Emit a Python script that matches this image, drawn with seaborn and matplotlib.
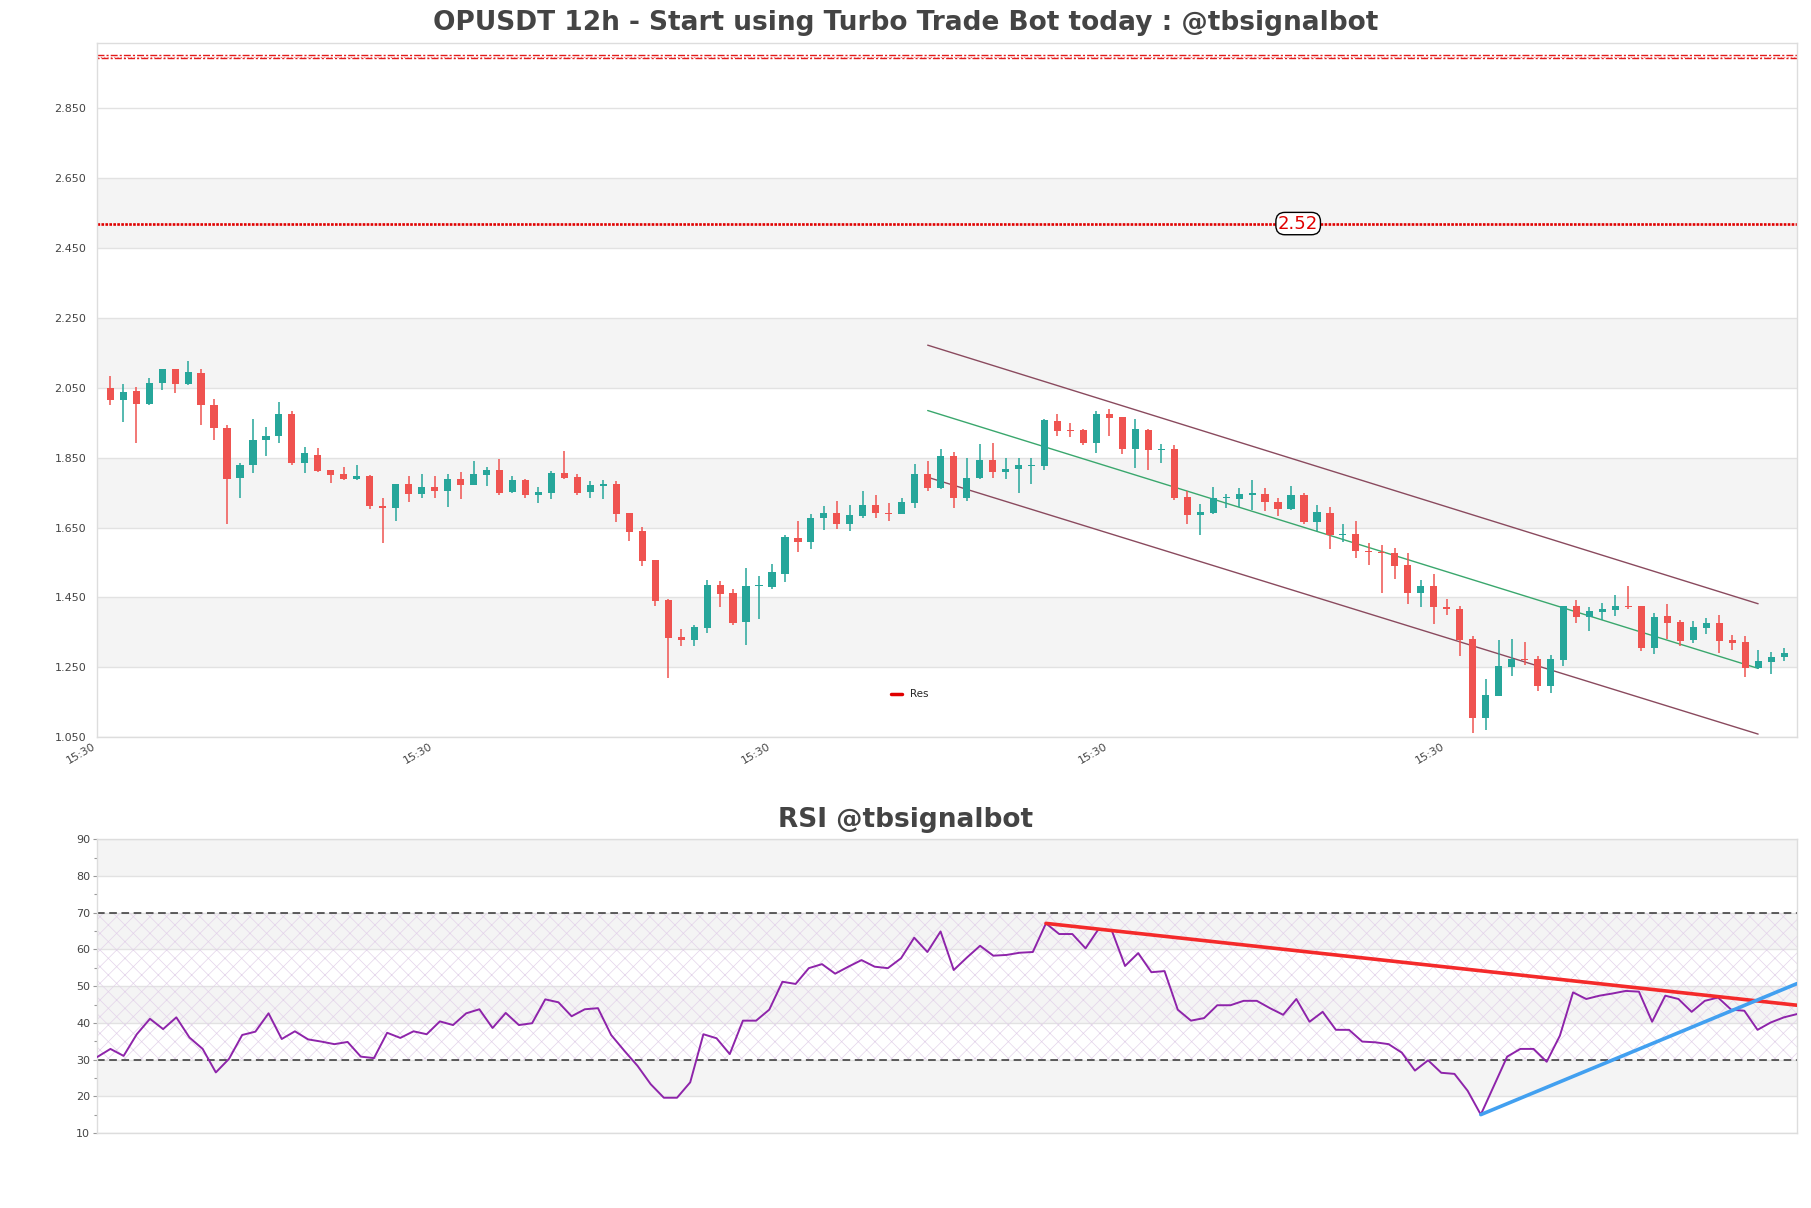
import numpy as np
import pandas as pd
import matplotlib
matplotlib.use("Agg")
import matplotlib.pyplot as plt
import matplotlib.transforms as mtransforms
from matplotlib.lines import Line2D
from matplotlib.ticker import MultipleLocator
import seaborn as sns

# ---------------- data ----------------
opens = [2.050, 2.015, 2.042, 2.003, 2.063, 2.104, 2.061, 2.093, 2.001, 1.936,
         1.791, 1.828, 1.900, 1.911, 1.976, 1.834, 1.859, 1.816, 1.802, 1.788,
         1.797, 1.713, 1.705, 1.774, 1.745, 1.765, 1.754, 1.788, 1.771, 1.800,
         1.814, 1.751, 1.785, 1.742, 1.748, 1.805, 1.794, 1.751, 1.770, 1.774,
         1.691, 1.639, 1.556, 1.444, 1.338, 1.329, 1.364, 1.487, 1.464, 1.381,
         1.483, 1.481, 1.518, 1.619, 1.610, 1.676, 1.691, 1.659, 1.682, 1.714,
         1.691, 1.688, 1.719, 1.802, 1.762, 1.854, 1.734, 1.791, 1.843, 1.808,
         1.817, 1.826, 1.827, 1.955, 1.928, 1.928, 1.891, 1.975, 1.966, 1.874,
         1.928, 1.871, 1.874, 1.737, 1.686, 1.692, 1.734, 1.733, 1.744, 1.747,
         1.724, 1.702, 1.744, 1.665, 1.691, 1.628, 1.631, 1.583, 1.579, 1.576,
         1.542, 1.462, 1.483, 1.422, 1.417, 1.331, 1.106, 1.169, 1.252, 1.274,
         1.274, 1.198, 1.272, 1.427, 1.395, 1.409, 1.415, 1.427, 1.425, 1.306,
         1.397, 1.381, 1.329, 1.362, 1.377, 1.329, 1.323, 1.249, 1.266, 1.280]
highs = [2.085, 2.060, 2.053, 2.079, 2.104, 2.104, 2.128, 2.104, 2.018, 1.944,
         1.835, 1.962, 1.939, 2.008, 1.985, 1.882, 1.879, 1.816, 1.822, 1.830,
         1.800, 1.736, 1.774, 1.797, 1.802, 1.797, 1.802, 1.808, 1.840, 1.822,
         1.845, 1.797, 1.788, 1.765, 1.811, 1.870, 1.802, 1.782, 1.785, 1.782,
         1.691, 1.653, 1.556, 1.447, 1.361, 1.372, 1.501, 1.496, 1.475, 1.533,
         1.510, 1.547, 1.630, 1.670, 1.688, 1.711, 1.725, 1.714, 1.754, 1.742,
         1.719, 1.736, 1.831, 1.840, 1.874, 1.866, 1.848, 1.888, 1.891, 1.848,
         1.848, 1.848, 1.961, 1.975, 1.950, 1.931, 1.985, 1.990, 1.966, 1.961,
         1.933, 1.890, 1.886, 1.754, 1.717, 1.765, 1.747, 1.764, 1.785, 1.763,
         1.736, 1.770, 1.748, 1.716, 1.710, 1.659, 1.668, 1.605, 1.599, 1.591,
         1.576, 1.500, 1.517, 1.447, 1.427, 1.339, 1.216, 1.328, 1.331, 1.322,
         1.283, 1.285, 1.425, 1.442, 1.422, 1.433, 1.456, 1.482, 1.425, 1.405,
         1.431, 1.386, 1.383, 1.391, 1.400, 1.343, 1.341, 1.300, 1.294, 1.305]
lows = [2.000, 1.952, 1.891, 2.000, 2.043, 2.035, 2.058, 1.943, 1.900, 1.659,
        1.734, 1.805, 1.854, 1.891, 1.828, 1.805, 1.808, 1.777, 1.785, 1.785,
        1.702, 1.607, 1.670, 1.722, 1.736, 1.736, 1.708, 1.731, 1.771, 1.768,
        1.742, 1.748, 1.734, 1.719, 1.731, 1.788, 1.742, 1.736, 1.731, 1.665,
        1.613, 1.539, 1.427, 1.220, 1.312, 1.312, 1.349, 1.424, 1.372, 1.315,
        1.389, 1.473, 1.493, 1.579, 1.590, 1.642, 1.645, 1.639, 1.676, 1.676,
        1.668, 1.688, 1.705, 1.756, 1.759, 1.705, 1.725, 1.788, 1.791, 1.788,
        1.748, 1.774, 1.814, 1.912, 1.909, 1.886, 1.863, 1.912, 1.860, 1.820,
        1.814, 1.834, 1.728, 1.659, 1.628, 1.688, 1.707, 1.708, 1.700, 1.697,
        1.682, 1.700, 1.659, 1.639, 1.588, 1.608, 1.562, 1.542, 1.462, 1.502,
        1.430, 1.424, 1.373, 1.399, 1.283, 1.062, 1.070, 1.169, 1.226, 1.257,
        1.181, 1.178, 1.255, 1.378, 1.355, 1.386, 1.398, 1.416, 1.298, 1.289,
        1.332, 1.312, 1.321, 1.346, 1.292, 1.301, 1.223, 1.246, 1.232, 1.269]
closes = [2.015, 2.039, 2.003, 2.065, 2.104, 2.061, 2.096, 2.000, 1.934, 1.788,
          1.829, 1.902, 1.913, 1.976, 1.834, 1.862, 1.811, 1.800, 1.788, 1.797,
          1.711, 1.705, 1.774, 1.745, 1.765, 1.754, 1.788, 1.771, 1.802, 1.814,
          1.748, 1.785, 1.742, 1.751, 1.805, 1.791, 1.748, 1.771, 1.772, 1.688,
          1.636, 1.553, 1.441, 1.335, 1.329, 1.366, 1.487, 1.461, 1.378, 1.484,
          1.485, 1.524, 1.622, 1.610, 1.676, 1.691, 1.659, 1.685, 1.714, 1.691,
          1.688, 1.722, 1.802, 1.762, 1.854, 1.734, 1.791, 1.843, 1.808, 1.818,
          1.828, 1.829, 1.957, 1.926, 1.925, 1.891, 1.975, 1.963, 1.874, 1.931,
          1.871, 1.874, 1.734, 1.685, 1.696, 1.736, 1.737, 1.747, 1.747, 1.722,
          1.702, 1.744, 1.665, 1.694, 1.628, 1.631, 1.582, 1.580, 1.576, 1.539,
          1.462, 1.483, 1.422, 1.417, 1.328, 1.106, 1.171, 1.254, 1.274, 1.271,
          1.198, 1.274, 1.425, 1.395, 1.410, 1.417, 1.425, 1.422, 1.306, 1.394,
          1.378, 1.326, 1.365, 1.377, 1.326, 1.321, 1.249, 1.267, 1.280, 1.291]

rsi_values = [30.7, 32.9, 31.0, 36.9, 41.1, 38.3, 41.5, 36.0, 32.9, 26.5,
              30.2, 36.7, 37.6, 42.6, 35.6, 37.7, 35.5, 34.9, 34.2, 34.8,
              30.8, 30.4, 37.3, 35.9, 37.7, 36.9, 40.4, 39.4, 42.6, 43.7,
              38.6, 42.7, 39.4, 39.9, 46.4, 45.6, 41.8, 43.7, 44.0, 36.7,
              32.4, 28.3, 23.3, 19.6, 19.6, 23.8, 36.9, 35.8, 31.5, 40.6,
              40.6, 43.6, 51.2, 50.6, 54.9, 56.0, 53.4, 55.3, 57.1, 55.3,
              54.9, 57.6, 63.2, 59.3, 64.9, 54.4, 57.8, 61.0, 58.3, 58.5,
              59.1, 59.3, 67.1, 64.2, 64.2, 60.3, 65.6, 65.1, 55.5, 59.0,
              53.8, 54.1, 43.6, 40.6, 41.3, 44.8, 44.8, 46.0, 46.0, 44.0,
              42.2, 46.5, 40.3, 43.0, 38.1, 38.1, 34.9, 34.7, 34.2, 31.9,
              27.0, 29.8, 26.4, 26.1, 21.5, 15.0, 22.9, 30.8, 32.9, 32.9,
              29.4, 36.5, 48.3, 46.5, 47.4, 48.0, 48.7, 48.5, 40.3, 47.4,
              46.5, 43.0, 46.0, 46.9, 43.6, 43.3, 38.1, 40.1, 41.5, 42.4]

price_ticks = [1.05, 1.25, 1.45, 1.65, 1.85, 2.05, 2.25, 2.45, 2.65, 2.85]
rsi_ticks = [10, 20, 30, 40, 50, 60, 70, 80, 90]
x_tick_positions = [-1, 25, 51, 77, 103]
x_tick_labels = ["15:30", "15:30", "15:30", "15:30", "15:30"]

res_main = 2.52
res_main_label = "2.52"
res_top = 2.998

channel_idx = [63, 127]
channel_mid = [1.985, 1.247]
channel_upper = [2.172, 1.432]
channel_lower = [1.794, 1.059]

rsi_down_idx = [72, 129]
rsi_down_val = [67.1, 44.8]
rsi_up_idx = [105, 129]
rsi_up_val = [15.0, 50.7]

rsi_levels = [30, 70]

# ---------------- style ----------------
sns.set_theme(style="white")
plt.rcParams['font.family'] = ['DejaVu Sans']
plt.rcParams['hatch.linewidth'] = 0.5

UP = '#26a69a'
DOWN = '#ef5350'
BAND = '#f4f4f4'
GRID = '#e2e2e2'
SPINE = '#dddddd'
TXT = '#444444'

df = pd.DataFrame({"idx": np.arange(len(opens)), "open": opens, "high": highs,
                   "low": lows, "close": closes})
df["up"] = df["close"] >= df["open"]
n = len(df)

fig = plt.figure(figsize=(18.11, 12.08), dpi=100)
ax = fig.add_axes([0.0537, 0.3897, 0.9386, 0.5745])
ax2 = fig.add_axes([0.0537, 0.0621, 0.9386, 0.2431])

# ---------- main price axes ----------
for i in range(len(price_ticks) - 1):
    if i % 2 == 1:
        ax.axhspan(price_ticks[i], price_ticks[i + 1], color=BAND, zorder=0, lw=0)
for t in price_ticks:
    ax.axhline(t, color=GRID, lw=1, zorder=0.5)

colors = np.where(df["up"], UP, DOWN)
ax.vlines(df["idx"], df["low"], df["high"], colors=colors, lw=1.1, zorder=3)
body_bottom = np.minimum(df["open"], df["close"])
body_h = np.maximum(np.abs(df["close"] - df["open"]), 0.004)
ax.bar(df["idx"], body_h, bottom=body_bottom, width=0.55, color=colors,
       linewidth=0, zorder=4)

# regression channel
sns.lineplot(x=channel_idx, y=channel_upper, ax=ax, color='#8a4a5e', lw=1.0, zorder=2)
sns.lineplot(x=channel_idx, y=channel_lower, ax=ax, color='#8a4a5e', lw=1.0, zorder=2)
sns.lineplot(x=channel_idx, y=channel_mid, ax=ax, color='#3aa76d', lw=1.0, zorder=2)

# resistance lines
ax.axhline(res_main, color='#e00000', lw=1.9, ls=(0, (1, 0.5)), zorder=2)
ax.axhline(res_top + 0.003, color='#e31b1b', lw=1.0, ls=(0, (5, 1.5, 1.5, 1.5)), zorder=2)
ax.axhline(res_top - 0.003, color='#e31b1b', lw=1.0, ls=(0, (1.5, 1.5, 5, 1.5)), zorder=2)
ax.axhline(res_top, color='#f07070', lw=0.8, ls=(0, (1, 2)), zorder=2)
trans = mtransforms.blended_transform_factory(ax.transAxes, ax.transData)
ax.text(0.7065, res_main, res_main_label, transform=trans, ha='center', va='center',
        color='#e00000', fontsize=13, zorder=6,
        bbox=dict(boxstyle='round,pad=0.12,rounding_size=0.5', fc='white', ec='black', lw=1))

ax.set_xlim(-1, n)
ax.set_ylim(1.05, 3.036)
ax.set_yticks(price_ticks)
ax.set_yticklabels([f"{t:.3f}" for t in price_ticks])
ax.set_xticks(x_tick_positions)
ax.set_xticklabels(x_tick_labels, rotation=30, ha='right')
ax.tick_params(axis='both', labelsize=8, colors=TXT, length=0)
ax.tick_params(axis='y', pad=8)
ax.tick_params(axis='x', pad=3)
ax.grid(False)
for s in ax.spines.values():
    s.set_color(SPINE)
    s.set_linewidth(1)
ax.set_xlabel("")
ax.set_ylabel("")

handle = Line2D([0], [0], color='#e00000', lw=2.5)
ax.legend([handle], ["Res"], loc='center', bbox_to_anchor=(0.478, 0.062),
          frameon=False, fontsize=7.5, handlelength=1.0, handletextpad=0.8)

# ---------- RSI axes ----------
for i in range(len(rsi_ticks) - 1):
    if i % 2 == 1:
        ax2.axhspan(rsi_ticks[i], rsi_ticks[i + 1], color=BAND, zorder=0, lw=0)
for t in rsi_ticks:
    ax2.axhline(t, color=GRID, lw=1, zorder=0.5)

ax2.fill_between([0, n - 1], rsi_levels[0], rsi_levels[1], facecolor='none',
                 edgecolor='#e3d3ea', hatch='xx', lw=0, zorder=1)
for lv in rsi_levels:
    ax2.axhline(lv, color='#333333', lw=1.1, ls=(0, (5, 3)), zorder=2)

rsi_df = pd.DataFrame({"idx": np.arange(len(rsi_values)), "rsi": rsi_values})
sns.lineplot(data=rsi_df, x="idx", y="rsi", ax=ax2, color='#8e24aa', lw=1.4, zorder=3)
sns.lineplot(x=rsi_down_idx, y=rsi_down_val, ax=ax2, color='#f42a2a', lw=2.6, zorder=4)
sns.lineplot(x=rsi_up_idx, y=rsi_up_val, ax=ax2, color='#42a0f0', lw=2.6, zorder=4)

ax2.set_xlim(0, n - 1)
ax2.set_ylim(10, 90)
ax2.set_yticks(rsi_ticks)
ax2.yaxis.set_minor_locator(MultipleLocator(5))
ax2.set_xticks([])
ax2.tick_params(axis='y', which='major', labelsize=8, colors=TXT, length=3,
                width=0.8, color='#999999', left=True, pad=2)
ax2.tick_params(axis='y', which='minor', length=2, width=0.8, color='#999999', left=True)
ax2.grid(False)
for s in ax2.spines.values():
    s.set_color(SPINE)
    s.set_linewidth(1)
ax2.set_xlabel("")
ax2.set_ylabel("")

# ---------- titles ----------
fig.text(0.5, 0.981, "OPUSDT 12h - Start using Turbo Trade Bot today : @tbsignalbot",
         ha='center', va='center', fontsize=19, fontweight='bold', color=TXT)
fig.text(0.5, 0.321, "RSI @tbsignalbot", ha='center', va='center',
         fontsize=19, fontweight='bold', color=TXT)

fig.savefig("out.png", dpi=100)
